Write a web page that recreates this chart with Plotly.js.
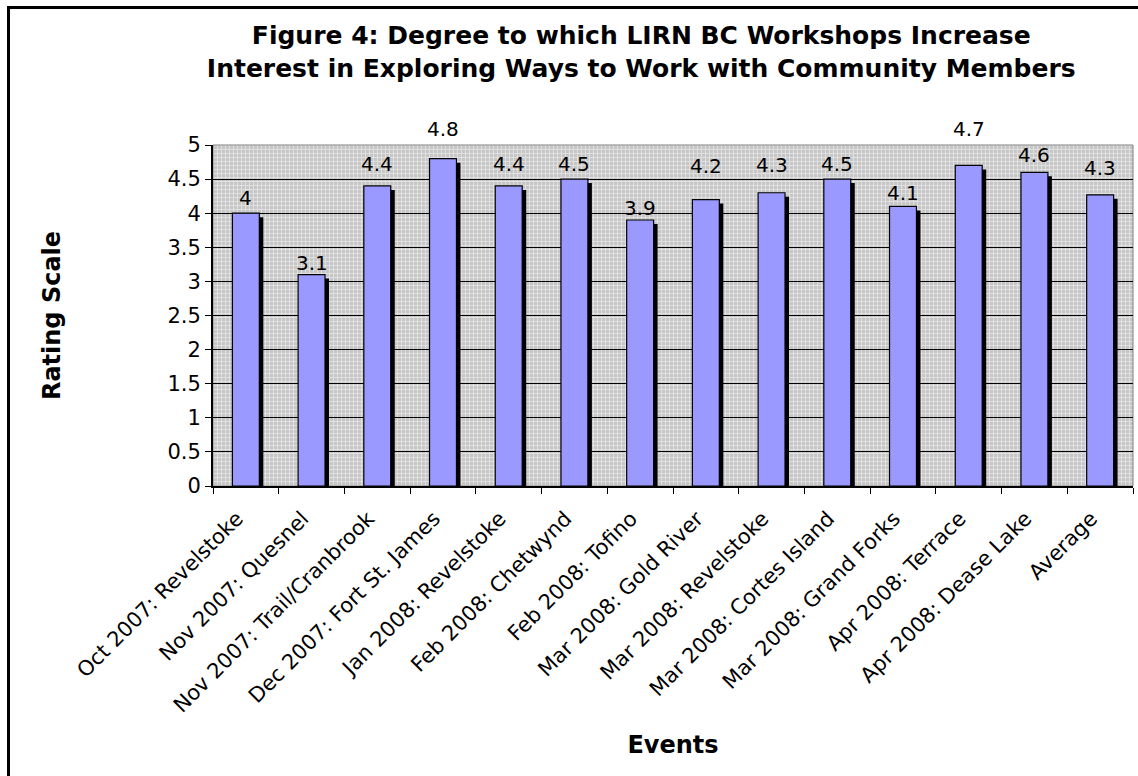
<!DOCTYPE html>
<html>
<head>
<meta charset="utf-8">
<script src="https://cdn.plot.ly/plotly-3.0.1.min.js"></script>
<style>
  html, body { margin: 0; padding: 0; background: #fff; }
  #wrap { position: relative; width: 1138px; height: 776px; overflow: hidden; }
  #chart { width: 1138px; height: 776px; }
  #frame {
    position: absolute; left: 7px; top: 6px; right: -20px; bottom: -20px;
    border: 3px solid #000; pointer-events: none;
  }
</style>
</head>
<body>
<div id="wrap">
  <div id="chart"></div>
  <div id="frame"></div>
</div>
<script>
// Workshop events and their mean ratings
const events = [
  'Oct 2007: Revelstoke',
  'Nov 2007: Quesnel',
  'Nov 2007: Trail/Cranbrook',
  'Dec 2007: Fort St. James',
  'Jan 2008: Revelstoke',
  'Feb 2008: Chetwynd',
  'Feb 2008: Tofino',
  'Mar 2008: Gold River',
  'Mar 2008: Revelstoke',
  'Mar 2008: Cortes Island',
  'Mar 2008: Grand Forks',
  'Apr 2008: Terrace',
  'Apr 2008: Dease Lake',
  'Average'
];
const ratings = [4, 3.1, 4.4, 4.8, 4.4, 4.5, 3.9, 4.2, 4.3, 4.5, 4.1, 4.7, 4.6, 4.27];

const yTickVals = [0, 0.5, 1, 1.5, 2, 2.5, 3, 3.5, 4, 4.5, 5];
const yTickText = ['0', '0.5', '1', '1.5', '2', '2.5', '3', '3.5', '4', '4.5', '5'];

// Plot area geometry (pixels)
const W = 1138, H = 776;
const M = { l: 213, r: 5, t: 145, b: 290 };
const plotW = W - M.l - M.r;
const plotH = H - M.t - M.b;
const yMax = 5;

// Drop shadow offset, converted from pixels to axis units
const barW = 0.41;
const shadowPx = 4;
const dxCat = shadowPx / (plotW / events.length);
const dyVal = shadowPx / (plotH / yMax);

// Value labels: pixel gap between each bar top and its label centre
const labelLift = [15, 12, 22, 30, 22, 15, 12, 34, 28, 15, 13, 36, 17, 27];

const font = 'DejaVu Sans, Verdana, sans-serif';

// Fine crosshatch fill for the plotting area
const texture =
  "<svg xmlns='http://www.w3.org/2000/svg' width='" + plotW + "' height='" + plotH + "'>" +
  "<defs><pattern id='p' width='4' height='4' patternUnits='userSpaceOnUse'>" +
  "<rect width='4' height='4' fill='#c6c6c6'/>" +
  "<path d='M0 0.5H4M0.5 0V4' stroke='#e0e0e0' stroke-width='1'/>" +
  "</pattern></defs><rect width='100%' height='100%' fill='url(#p)'/></svg>";

const shadow = {
  type: 'bar',
  x: events,
  y: ratings,
  base: -dyVal,
  width: barW,
  offset: -barW / 2 + dxCat,
  marker: { color: '#000000', line: { width: 0 } },
  hoverinfo: 'skip',
  showlegend: false
};

const bars = {
  type: 'bar',
  x: events,
  y: ratings,
  width: barW,
  offset: -barW / 2,
  marker: { color: '#9999ff', line: { color: '#000000', width: 1.2 } },
  hoverinfo: 'skip',
  showlegend: false
};

const valueLabels = events.map((ev, i) => ({
  xref: 'x', yref: 'y',
  x: ev, y: ratings[i],
  text: String(Math.round(ratings[i] * 10) / 10),
  showarrow: false,
  xanchor: 'center', yanchor: 'middle',
  yshift: labelLift[i],
  font: { family: font, size: 20, color: '#000000' }
}));

const layout = {
  width: W,
  height: H,
  margin: M,
  paper_bgcolor: '#ffffff',
  plot_bgcolor: '#c6c6c6',
  barmode: 'overlay',
  font: { family: font, color: '#000000' },
  title: {
    text: 'Figure 4: Degree to which LIRN BC Workshops Increase<br>Interest in Exploring Ways to Work with Community Members',
    font: { family: font, size: 25, color: '#000000', weight: 'bold' },
    x: 0.5635,
    xanchor: 'center',
    y: 0.943,
    yanchor: 'top'
  },
  xaxis: {
    type: 'category',
    range: [-0.5, events.length - 0.5],
    tickangle: -45,
    tickson: 'boundaries',
    ticks: 'outside',
    ticklen: 6,
    tickwidth: 1,
    tickcolor: '#000000',
    ticklabelstandoff: 10,
    ticklabelshift: -9,
    showline: true,
    linecolor: '#000000',
    linewidth: 2,
    showgrid: false,
    tickfont: { family: font, size: 21, color: '#000000' },
    title: {
      text: 'Events',
      font: { family: font, size: 24, color: '#000000', weight: 'bold' },
      standoff: 20
    },
    automargin: false
  },
  yaxis: {
    range: [0, yMax],
    tickvals: yTickVals,
    ticktext: yTickText,
    ticks: 'outside',
    ticklen: 6,
    tickwidth: 1,
    tickcolor: '#000000',
    showline: true,
    linecolor: '#000000',
    linewidth: 2,
    showgrid: true,
    gridcolor: '#000000',
    gridwidth: 1,
    zeroline: false,
    tickfont: { family: font, size: 21, color: '#000000' },
    title: {
      text: 'Rating Scale',
      font: { family: font, size: 24, color: '#000000', weight: 'bold' },
      standoff: 100
    },
    automargin: false
  },
  annotations: valueLabels,
  images: [{
    source: 'data:image/svg+xml;charset=utf-8,' + encodeURIComponent(texture),
    xref: 'paper', yref: 'paper',
    x: 0, y: 1, sizex: 1, sizey: 1,
    xanchor: 'left', yanchor: 'top',
    sizing: 'stretch',
    layer: 'below'
  }],
  shapes: [{
    type: 'rect', xref: 'paper', yref: 'paper',
    x0: 0, y0: 0, x1: 1, y1: 1,
    line: { color: '#808080', width: 1 },
    layer: 'below'
  }]
};

Plotly.newPlot('chart', [shadow, bars], layout, { displayModeBar: false, staticPlot: true });
</script>
</body>
</html>
